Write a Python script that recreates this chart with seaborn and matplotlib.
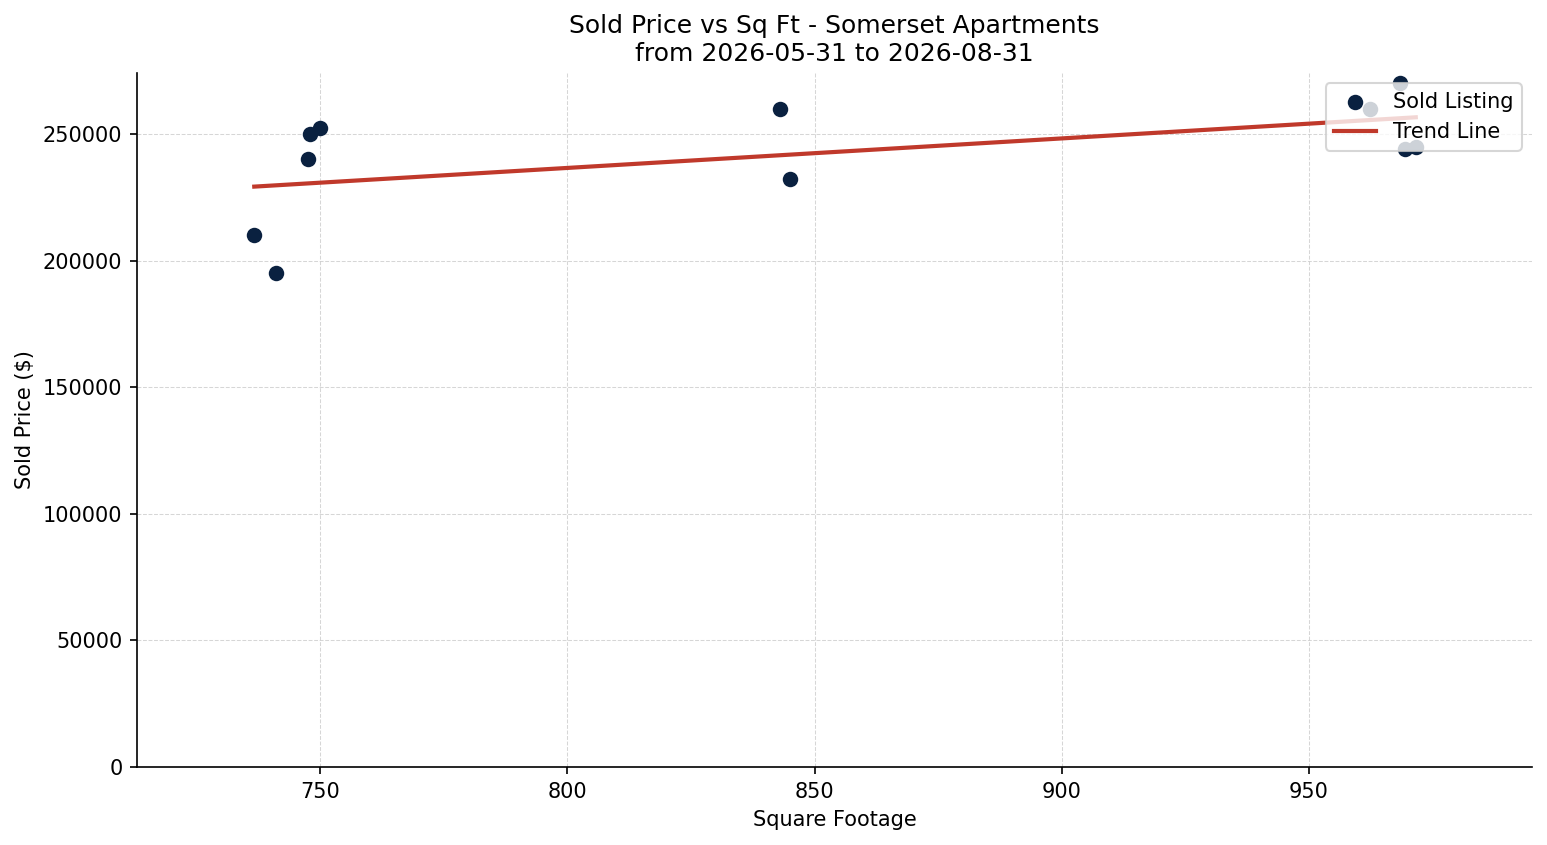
import numpy as np
import pandas as pd
import seaborn as sns
import matplotlib.pyplot as plt

# Sold listings
sqft = [736.7, 741, 747.6, 748, 750, 843, 845, 962.3, 968.4, 969.4, 971.6]
price = [210000, 195000, 240000, 250000, 252500, 260000, 232000, 260000, 270000, 244000, 245000]

title = "Sold Price vs Sq Ft - Somerset Apartments\nfrom 2026-05-31 to 2026-08-31"

df = pd.DataFrame({"sqft": sqft, "price": price})

# Linear trend between min and max square footage
slope, intercept = np.polyfit(df["sqft"], df["price"], 1)
trend = pd.DataFrame({"sqft": [df["sqft"].min(), df["sqft"].max()]})
trend["price"] = slope * trend["sqft"] + intercept

fig, ax = plt.subplots(figsize=(1547 / 150, 845 / 150), dpi=150)
fig.subplots_adjust(left=0.0886, right=0.9903, bottom=0.0923, top=0.9136)

sns.scatterplot(data=df, x="sqft", y="price", ax=ax,
                color="#0a2140", s=55, linewidth=0, label="Sold Listing", zorder=3)
sns.lineplot(data=trend, x="sqft", y="price", ax=ax,
             color="#c0392b", linewidth=2, label="Trend Line", zorder=2)

ax.set_xlim(713, 995.1)
ax.set_ylim(0, df["price"].max() * 1.015)

ax.set_title(title, fontsize=12)
ax.set_xlabel("Square Footage")
ax.set_ylabel("Sold Price ($)")

ax.grid(True, linestyle="--", linewidth=0.5, color="#cccccc", alpha=0.8)
ax.set_axisbelow(True)
ax.spines["top"].set_visible(False)
ax.spines["right"].set_visible(False)

ax.legend(loc="upper right", fontsize=10)

fig.savefig("out.png", dpi=150)
